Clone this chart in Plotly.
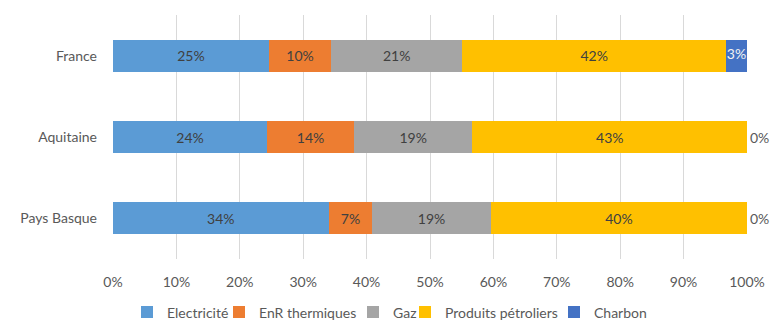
import plotly.graph_objects as go

regions = ["France", "Aquitaine", "Pays Basque"]
series_names = ["Electricité", "EnR thermiques", "Gaz", "Produits pétroliers", "Charbon"]
electricite = [24.6, 24.3, 34.0]
enr = [9.8, 13.7, 6.9]
gaz = [20.7, 18.7, 18.7]
petrole = [41.6, 43.3, 40.4]
charbon = [3.3, 0.0, 0.0]
x_ticks = [0, 10, 20, 30, 40, 50, 60, 70, 80, 90, 100]
x_tick_labels = [f"{v}%" for v in x_ticks]

colors = ["#5B9BD5", "#ED7D31", "#A5A5A5", "#FFC000", "#4472C4"]
values = [electricite, enr, gaz, petrole, charbon]
# left edge of each legend entry's text (px, in the 771-px-wide figure)
legend_text_px = [169, 261, 395, 447, 596]

W, H = 771, 322
FONT = "Lato"
FS = 14
fig = go.Figure()
legend_ids = ["legend", "legend2", "legend3", "legend4", "legend5"]
for name, vals, col, lid in zip(series_names, values, colors, legend_ids):
    if name == "Charbon":
        texts = ["" if v > 0 else f"{round(v)}%" for v in vals]
        tp = "outside"
    else:
        texts = [f"{round(v)}%" for v in vals]
        tp = "inside"
    fig.add_trace(go.Bar(
        y=regions, x=vals, name=name, orientation="h",
        marker=dict(color=col, line=dict(width=0)),
        text=texts,
        textposition=tp,
        textangle=0,
        insidetextanchor="middle",
        insidetextfont=dict(color="#404040", size=FS, family=FONT),
        outsidetextfont=dict(color="#595959", size=FS, family=FONT),
        cliponaxis=False,
        hoverinfo="skip",
        legend=lid,
    ))

# labels for the narrow Charbon segments, centred on the segment
base = [a + b + c + d for a, b, c, d in zip(electricite, enr, gaz, petrole)]
lab_x = [b + v / 2 for b, v in zip(base, charbon) if v > 0]
lab_y = [r for r, v in zip(regions, charbon) if v > 0]
lab_t = [f"{round(v)}%" for v in charbon if v > 0]
fig.add_trace(go.Scatter(
    x=lab_x, y=lab_y, text=lab_t, mode="text", showlegend=False,
    textfont=dict(color="#F2F2F2", size=FS, family=FONT),
    cliponaxis=False, hoverinfo="skip",
))

legend_layout = {}
for lid, tx in zip(legend_ids, legend_text_px):
    legend_layout[lid] = dict(
        orientation="h", xref="container", yref="container",
        x=(tx - 42) / W, xanchor="left",
        y=(H - 312.5) / H, yanchor="middle",
        font=dict(size=FS, color="#595959", family=FONT),
        itemwidth=30, bgcolor="rgba(0,0,0,0)", borderwidth=0,
    )

fig.update_layout(
    barmode="stack",
    bargap=0.607,
    width=W, height=H,
    margin=dict(l=113, r=24, t=15, b=63, autoexpand=False),
    paper_bgcolor="white", plot_bgcolor="white",
    font=dict(family=FONT, color="#595959", size=FS),
    xaxis=dict(range=[0, 100], tickvals=x_ticks, ticktext=x_tick_labels,
               showgrid=True, gridcolor="#D9D9D9", gridwidth=1, zeroline=False,
               showline=False, ticks="", ticklabelstandoff=13,
               tickfont=dict(size=FS, color="#595959")),
    yaxis=dict(categoryorder="array", categoryarray=regions[::-1],
               showgrid=False, zeroline=False, showline=False, ticks="",
               ticklabelstandoff=15, tickfont=dict(size=FS, color="#595959")),
    showlegend=True,
    **legend_layout,
)

fig.write_html("out.html")
